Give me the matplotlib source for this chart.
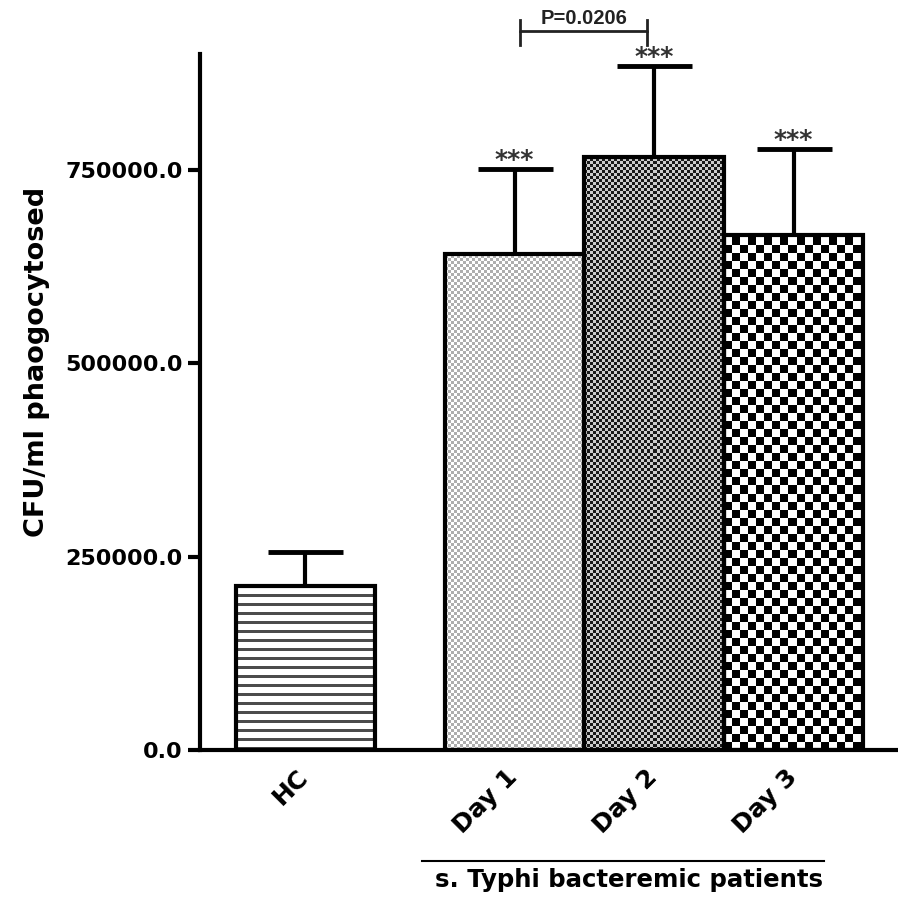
import numpy as np
import matplotlib
matplotlib.use("Agg")
import matplotlib.pyplot as plt
import matplotlib.transforms as mtransforms

plt.rcParams['font.family'] = ['DejaVu Sans']
plt.rcParams['font.weight'] = 'bold'
plt.rcParams['axes.labelweight'] = 'bold'

# 吞噬菌量（均值 + SEM）
groups = ['HC', 'Day 1', 'Day 2', 'Day 3']
positions = [0, 1.5, 2.5, 3.5]
means = [212000, 641000, 767000, 666000]
sems = [44000, 110000, 118000, 111000]
stars = ['', '***', '***', '***']
p_text = 'P=0.0206'
group_label = 's. Typhi bacteremic patients'
yticks = [0, 250000, 500000, 750000]


def texture(kind, w, h):
    # 按像素生成填充纹理，0 为黑 1 为白
    i, j = np.indices((h, w))
    if kind == 'hlines':
        return np.where(i % 9 < 3, 0.3, 1.0)
    if kind == 'light':
        return np.where((i // 3 + j // 3) % 2 == 0, 0.68, 1.0)
    if kind == 'dark':
        return np.where((i // 3 + j // 3) % 2 == 0, 0.1, 0.8)
    return np.where((i // 8 + j // 8) % 2 == 0, 0.0, 1.0)


kinds = ['hlines', 'light', 'dark', 'checker']

fig = plt.figure(figsize=(8.98, 9.0), dpi=100)
ax = fig.add_axes([0.2227, 0.1667, 0.776, 0.7733])
ax.set_xlim(-0.756, 4.24)
ax.set_ylim(0, 900000)

bars = ax.bar(positions, means, width=1.0, facecolor='none',
              edgecolor='black', linewidth=3, zorder=3)

for patch, kind in zip(bars.patches, kinds):
    bb = patch.get_window_extent()
    w_px, h_px = int(round(bb.width)), int(round(bb.height))
    x0 = patch.get_x()
    img = ax.imshow(texture(kind, w_px, h_px), cmap='gray', vmin=0, vmax=1,
                    origin='lower', interpolation='nearest', aspect='auto',
                    extent=(x0, x0 + patch.get_width(), 0, patch.get_height()),
                    zorder=2)
    img.set_clip_path(patch)

# 只画向上的误差线
eb = ax.errorbar(positions, means, yerr=[np.zeros(len(sems)), sems], fmt='none',
                 ecolor='black', elinewidth=3, capsize=27, capthick=3.5, zorder=4)
eb[1][0].set_visible(False)

for x, m, s, st in zip(positions, means, sems, stars):
    if st:
        ax.annotate(st, (x, m + s), xytext=(0, 1.5), textcoords='offset points',
                    ha='center', va='baseline', fontsize=18, color='#333333')

ax.set_xlim(-0.756, 4.24)
ax.set_ylim(0, 900000)

# P 值括号
bx1, bx2 = positions[1] + 0.04, positions[2] - 0.05
by = 930000
ax.plot([bx1, bx1, bx2, bx2], [by - 18000, by, by, by - 18000], color='#222222',
        lw=2, clip_on=False)
ax.plot([bx1, bx1], [by, by + 14000], color='#222222', lw=2, clip_on=False)
ax.plot([bx2, bx2], [by, by + 14000], color='#222222', lw=2, clip_on=False)
ax.text((bx1 + bx2) / 2, by + 4000, p_text, ha='center', va='bottom',
        fontsize=14.5, color='#222222',
        family=['Liberation Sans', 'DejaVu Sans'])

# 坐标轴
for side in ['top', 'right']:
    ax.spines[side].set_visible(False)
for side in ['left', 'bottom']:
    ax.spines[side].set_linewidth(3)
ax.set_yticks(yticks)
ax.set_yticklabels([f'{v:.1f}' for v in yticks], fontsize=16)
ax.tick_params(axis='y', length=8.5, width=3, pad=4)
ax.set_xticks(positions)
ax.set_xticklabels(groups, fontsize=18, rotation=45, ha='right',
                   rotation_mode='anchor')
ax.tick_params(axis='x', length=0, pad=8)
shift = mtransforms.ScaledTranslation(-0.09, -0.04, fig.dpi_scale_trans)
for lab in ax.get_xticklabels():
    lab.set_transform(lab.get_transform() + shift)
ax.set_ylabel('CFU/ml phaogocytosed', fontsize=19.5)
ax.yaxis.set_label_coords(-0.215, 0.557)

# 患者组下方的横线和标签
trans = mtransforms.blended_transform_factory(ax.transData, ax.transAxes)
ax.plot([0.835, 3.72], [-0.159, -0.159], color='black', lw=1.5,
        transform=trans, clip_on=False)
ax.text(2.32, -0.17, group_label, transform=trans,
        ha='center', va='top', fontsize=17.6)

fig.savefig('out.png', dpi=100)
